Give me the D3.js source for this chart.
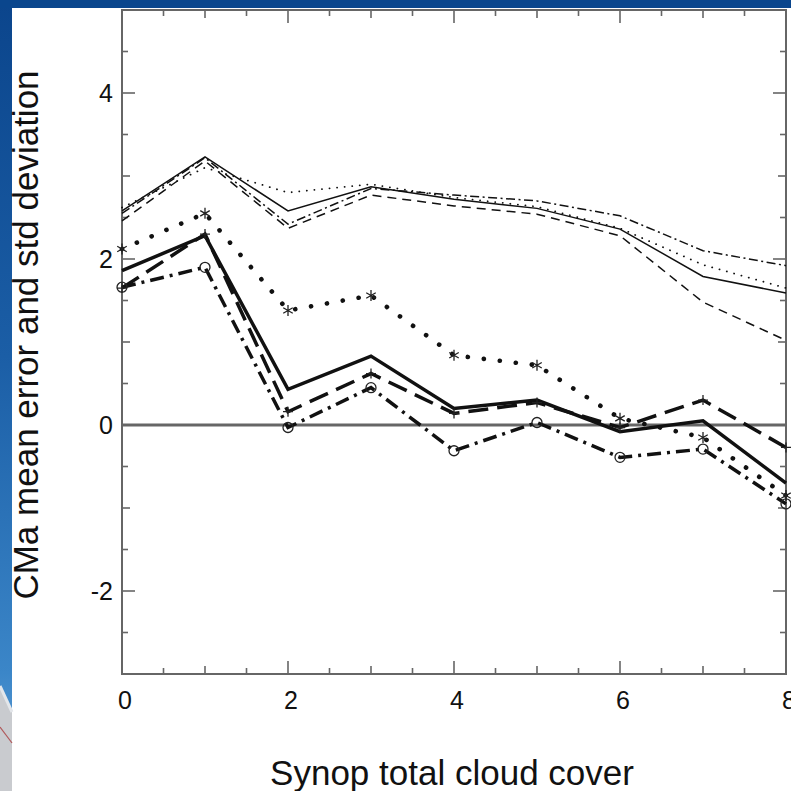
<!DOCTYPE html>
<html>
<head>
<meta charset="utf-8">
<script src="https://cdn.jsdelivr.net/npm/d3@7"></script>
<style>
  html, body { margin: 0; padding: 0; background: #fff; }
  svg { display: block; }
  text { font-family: "Liberation Sans", Arial, Helvetica, sans-serif; fill: #111; }
</style>
</head>
<body>
<svg id="chart" width="791" height="791"></svg>
<script>
// Synop total cloud cover classes (octas)
const cloudCover = [0, 1, 2, 3, 4, 5, 6, 7, 8];

// Standard deviation curves (thin lines)
const stdSolid   = [2.58, 3.23, 2.58, 2.87, 2.72, 2.61, 2.36, 1.79, 1.59];
const stdDotted  = [2.62, 3.10, 2.80, 2.90, 2.74, 2.63, 2.37, 1.93, 1.65];
const stdDashed  = [2.46, 3.18, 2.37, 2.77, 2.64, 2.54, 2.28, 1.48, 1.02];
const stdDashDot = [2.55, 3.22, 2.42, 2.85, 2.77, 2.70, 2.52, 2.10, 1.92];

// Mean error curves (thick lines)
const meanSolid   = [1.86, 2.28, 0.43, 0.83, 0.20, 0.30, -0.08, 0.05, -0.70];
const meanDashed  = [1.65, 2.30, 0.16, 0.62, 0.14, 0.27, -0.03, 0.30, -0.27];
const meanDotted  = [2.12, 2.55, 1.38, 1.56, 0.84, 0.72, 0.08, -0.15, -0.85];
const meanDashDot = [1.66, 1.90, -0.03, 0.45, -0.31, 0.03, -0.39, -0.29, -0.95];

// Axis tick labels
const xTickLabels = [0, 2, 4, 6, 8];
const yTickLabels = [-2, 0, 2, 4];

const xTitle = "Synop total cloud cover";
const yTitle = "CMa mean error and std deviation";

const svg = d3.select("#chart");
const W = 791, H = 791;

// ---- slide background: blue frame and a sliver of the photo at lower left
const defs = svg.append("defs");
const grad = defs.append("linearGradient").attr("id", "sideBlue")
  .attr("x1", 0).attr("y1", 0).attr("x2", 0).attr("y2", 1);
grad.append("stop").attr("offset", "0%").attr("stop-color", "#0b458c");
grad.append("stop").attr("offset", "45%").attr("stop-color", "#1b5ea6");
grad.append("stop").attr("offset", "85%").attr("stop-color", "#3b86c8");
grad.append("stop").attr("offset", "100%").attr("stop-color", "#6aa3d6");

svg.append("rect").attr("x", 0).attr("y", 0).attr("width", W).attr("height", H).attr("fill", "#fff");
svg.append("rect").attr("x", 0).attr("y", 0).attr("width", 12).attr("height", H).attr("fill", "url(#sideBlue)");
svg.append("rect").attr("x", 0).attr("y", 0).attr("width", W).attr("height", 8).attr("fill", "#0a468d");
svg.append("path").attr("d", "M0,686 L12,712 L12,791 L0,791 Z").attr("fill", "#c9cbcf");
svg.append("path").attr("d", "M0,686 L12,712").attr("stroke", "#e3e6ea").attr("stroke-width", 3);
svg.append("path").attr("d", "M0,727 L12,743").attr("stroke", "#b0585a").attr("stroke-width", 1.2);

// ---- scales
const x = d3.scaleLinear().domain([0, 8]).range([122, 786]);
const y = d3.scaleLinear().domain([-3, 5]).range([674, 10]);

const axisColor = "#666";
const g = svg.append("g");

// frame
g.append("rect")
  .attr("x", x(0)).attr("y", y(5))
  .attr("width", x(8) - x(0)).attr("height", y(-3) - y(5))
  .attr("fill", "none").attr("stroke", axisColor).attr("stroke-width", 2);

// tick lengths: labelled majors, other integers, halves
function tickLen(v, labelled) {
  if (labelled.includes(v)) return 13;
  if (Number.isInteger(v)) return 8;
  return 6;
}
const xTicks = d3.range(0, 8.001, 0.5);
const yTicks = d3.range(-3, 5.001, 0.5);

xTicks.forEach(v => {
  const L = tickLen(v, xTickLabels);
  g.append("line").attr("x1", x(v)).attr("x2", x(v)).attr("y1", y(-3)).attr("y2", y(-3) - L)
    .attr("stroke", axisColor).attr("stroke-width", 1.6);
  g.append("line").attr("x1", x(v)).attr("x2", x(v)).attr("y1", y(5)).attr("y2", y(5) + L)
    .attr("stroke", axisColor).attr("stroke-width", 1.6);
});
yTicks.forEach(v => {
  const L = tickLen(v, yTickLabels);
  g.append("line").attr("y1", y(v)).attr("y2", y(v)).attr("x1", x(0)).attr("x2", x(0) + L)
    .attr("stroke", axisColor).attr("stroke-width", 1.6);
  g.append("line").attr("y1", y(v)).attr("y2", y(v)).attr("x1", x(8)).attr("x2", x(8) - L)
    .attr("stroke", axisColor).attr("stroke-width", 1.6);
});

// tick labels
g.selectAll(".xl").data(xTickLabels).enter().append("text")
  .attr("x", d => x(d) + 3).attr("y", 709)
  .attr("text-anchor", "middle").attr("font-size", 25).text(d => String(d));
g.selectAll(".yl").data(yTickLabels).enter().append("text")
  .attr("x", x(0) - 9).attr("y", d => y(d) + 9)
  .attr("text-anchor", "end").attr("font-size", 25).text(d => String(d));

// axis titles
svg.append("text").attr("x", 452).attr("y", 785)
  .attr("text-anchor", "middle").attr("font-size", 35).text(xTitle);
svg.append("text")
  .attr("transform", "translate(38,335) rotate(-90)")
  .attr("text-anchor", "middle").attr("font-size", 35).text(yTitle);

// zero reference line
g.append("line").attr("x1", x(0)).attr("x2", x(8)).attr("y1", y(0)).attr("y2", y(0))
  .attr("stroke", axisColor).attr("stroke-width", 2.8);

// ---- curves
const series = [
  { values: stdSolid,   width: 1.5, dash: null },
  { values: stdDotted,  width: 1.8, dash: "0.1,7.5", cap: "round" },
  { values: stdDashed,  width: 1.5, dash: "9,6" },
  { values: stdDashDot, width: 1.5, dash: "9,3.5,2,3.5" },
  { values: meanSolid,   width: 3.5, dash: null },
  { values: meanDashed,  width: 3.5, dash: "20,9", marker: "plus" },
  { values: meanDotted,  width: 4.6, dash: "0.1,16", cap: "round", marker: "star" },
  { values: meanDashDot, width: 3.5, dash: "14,6,3,6", marker: "circle" }
];

const line = d3.line().x((d, i) => x(cloudCover[i])).y(d => y(d));

const curves = svg.append("g");
series.forEach(s => {
  curves.append("path")
    .datum(s.values)
    .attr("d", line)
    .attr("fill", "none")
    .attr("stroke", "#111")
    .attr("stroke-width", s.width)
    .attr("stroke-linejoin", "miter")
    .attr("stroke-linecap", s.cap || "butt")
    .attr("stroke-dasharray", s.dash);
});

// point markers
const mk = svg.append("g").attr("stroke", "#222").attr("stroke-width", 1.3).attr("fill", "none");
series.filter(s => s.marker).forEach(s => {
  s.values.forEach((v, i) => {
    const cx = x(cloudCover[i]), cy = y(v);
    if (s.marker === "plus") {
      mk.append("path").attr("d", `M${cx - 5},${cy}H${cx + 5}M${cx},${cy - 5}V${cy + 5}`);
    } else if (s.marker === "star") {
      const r = 5.5;
      let d = `M${cx},${cy - r}V${cy + r}`;
      [30, 150].forEach(a => {
        const rad = a * Math.PI / 180;
        d += `M${cx - r * Math.cos(rad)},${cy - r * Math.sin(rad)}L${cx + r * Math.cos(rad)},${cy + r * Math.sin(rad)}`;
      });
      mk.append("path").attr("d", d);
    } else if (s.marker === "circle") {
      mk.append("circle").attr("cx", cx).attr("cy", cy).attr("r", 5);
    }
  });
});
</script>
</body>
</html>
